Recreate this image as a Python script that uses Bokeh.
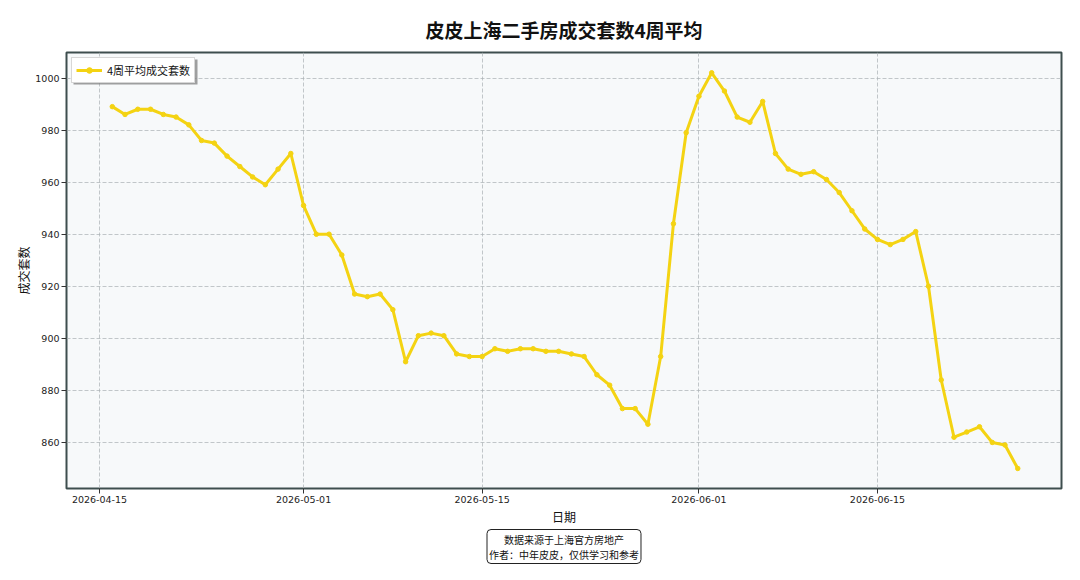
import pandas as pd
from bokeh.plotting import figure
from bokeh.models import (ColumnDataSource, FixedTicker, DatetimeTickFormatter,
                          Title, Range1d, BoxAnnotation)
from bokeh.embed import file_html
from bokeh.resources import INLINE

# ---------------- data ----------------
start_date = "2026-04-16"
avg_4w = [
    # April 16 - 30
    989, 986, 988, 988, 986, 985, 982, 976, 975, 970, 966, 962, 959, 965, 971,
    # May 1 - 31
    951, 940, 940, 932, 917, 916, 917, 911, 891, 901, 902, 901, 894, 893, 893,
    896, 895, 896, 896, 895, 895, 894, 893, 886, 882, 873, 873, 867, 893, 944, 979,
    # June 1 - 26
    993, 1002, 995, 985, 983, 991, 971, 965, 963, 964, 961, 956, 949, 942, 938,
    936, 938, 941, 920, 884, 862, 864, 866, 860, 859, 850,
]
x_tick_dates = ["2026-04-15", "2026-05-01", "2026-05-15", "2026-06-01", "2026-06-15"]
y_ticks = [860, 880, 900, 920, 940, 960, 980, 1000]
series_name = "4周平均成交套数"
title_text = "皮皮上海二手房成交套数4周平均"
x_label = "日期"
y_label = "成交套数"
footer_text = "数据来源于上海官方房地产\n作者：中年皮皮，仅供学习和参考"

dates = pd.date_range(start_date, periods=len(avg_4w), freq="D")
src = ColumnDataSource(dict(date=dates, value=avg_4w))

DAY = 86400000
t0 = pd.Timestamp(x_tick_dates[0]).value // 10**6
x_start = t0 - 2.59 * DAY
x_end = t0 + 75.43 * DAY

CJK = "Noto Sans CJK SC"
LINE_COLOR = "#F4D312"

W, H = 1064, 564
B_LEFT, B_RIGHT, B_TOP, B_BOTTOM = 66, 3, 52, 76
frame_h = H - B_TOP - B_BOTTOM

p = figure(width=W, height=H, x_axis_type="datetime",
           output_backend="svg", toolbar_location=None,
           x_range=Range1d(x_start, x_end), y_range=Range1d(842.3, 1009.8),
           min_border_left=B_LEFT, min_border_right=B_RIGHT,
           min_border_top=B_TOP, min_border_bottom=B_BOTTOM)

p.title.text = title_text
p.title.align = "center"
p.title.text_font = CJK
p.title.text_font_size = "19px"
p.title.text_font_style = "bold"
p.title.text_color = "#111111"
p.title.standoff = 20

p.background_fill_color = "#f7f9fa"
p.border_fill_color = "white"
p.outline_line_color = "#3e4e4e"
p.outline_line_width = 2

# axes
p.xaxis.ticker = FixedTicker(ticks=[pd.Timestamp(d).value // 10**6 for d in x_tick_dates])
fmt = "%Y-%m-%d"
p.xaxis.formatter = DatetimeTickFormatter(days=fmt, months=fmt, years=fmt, hours=fmt,
                                          hourmin=fmt, minutes=fmt)
p.yaxis.ticker = FixedTicker(ticks=y_ticks)
for ax in (p.xaxis, p.yaxis):
    ax.axis_line_color = None
    ax.major_tick_out = 5
    ax.major_tick_in = 0
    ax.minor_tick_line_color = None
    ax.major_tick_line_color = "#333333"
    ax.major_label_text_font = "DejaVu Sans"
    ax.major_label_text_font_size = "9.5px"
    ax.major_label_text_color = "#222222"
    ax.major_label_standoff = 2
    ax.axis_label_text_font = CJK
    ax.axis_label_text_font_size = "12px"
    ax.axis_label_text_font_style = "normal"
    ax.axis_label_text_color = "#111111"
p.xaxis.axis_label = x_label
p.yaxis.axis_label = y_label
p.xaxis.axis_label_standoff = 2
p.yaxis.axis_label_standoff = 0

for g in (p.xgrid, p.ygrid):
    g.grid_line_color = "#aab0b4"
    g.grid_line_dash = "4 2"
    g.grid_line_alpha = 0.7
    g.grid_line_width = 1

# legend shadow (drawn under legend, offset down-right); screen y from frame bottom
shadow = BoxAnnotation(left=7, right=131, top=frame_h - 7, bottom=frame_h - 32,
                       left_units="screen", right_units="screen",
                       top_units="screen", bottom_units="screen",
                       fill_color="#808080", fill_alpha=0.75, line_color=None,
                       level="overlay")
p.add_layout(shadow)

p.line("date", "value", source=src, line_color=LINE_COLOR, line_width=3,
       legend_label=series_name)
p.scatter("date", "value", source=src, size=4.5, fill_color=LINE_COLOR,
          line_color=LINE_COLOR, legend_label=series_name)

p.legend.location = "top_left"
p.legend.margin = 5
p.legend.padding = 4
p.legend.spacing = 0
p.legend.label_text_font = CJK
p.legend.label_text_font_size = "11px"
p.legend.label_text_color = "#111111"
p.legend.glyph_width = 26
p.legend.glyph_height = 14
p.legend.label_standoff = 5
p.legend.label_height = 14
p.legend.border_line_color = "#b0b0b0"
p.legend.border_line_width = 1
p.legend.background_fill_color = "white"
p.legend.background_fill_alpha = 1

footer = Title(text=footer_text, align="center", text_align="center",
               text_font=CJK, text_font_size="10px", text_font_style="normal",
               text_color="#111111", text_line_height=1.0,
               border_line_color="#222222", border_line_width=1,
               background_fill_color="white", background_fill_alpha=1,
               padding=2, border_radius=4, standoff=0)
p.add_layout(footer, "below")

open("out.html", "w").write(file_html(p, INLINE))
